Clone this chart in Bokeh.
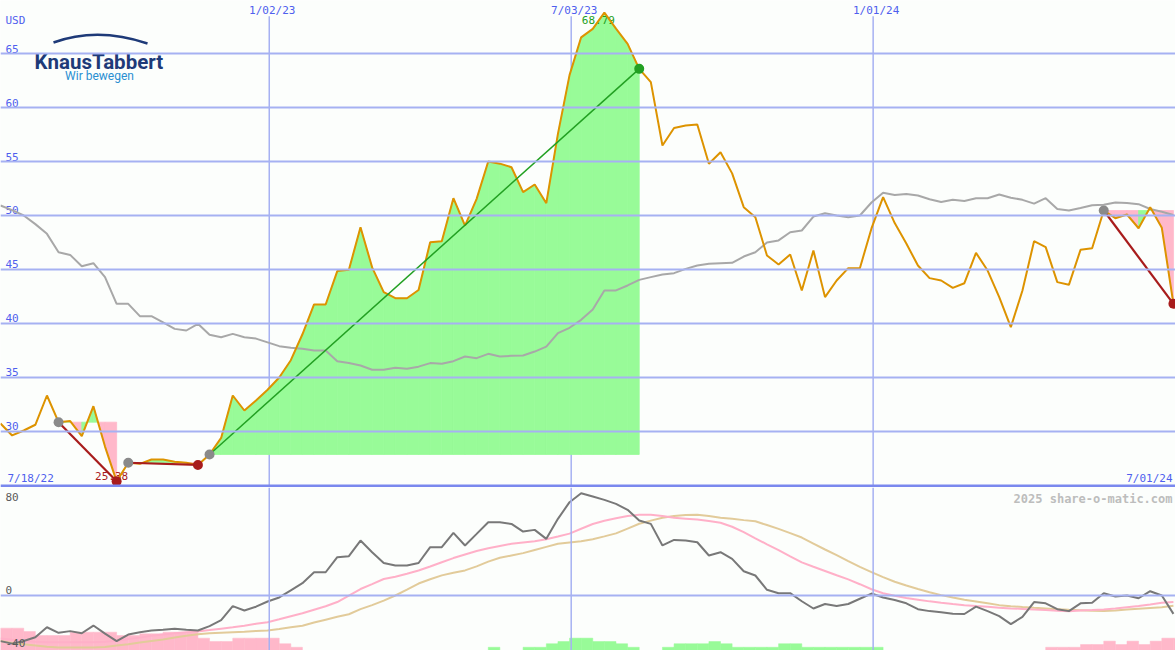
import numpy as np
from bokeh.plotting import figure
from bokeh.layouts import column
from bokeh.models import Range1d, Span
from bokeh.core.properties import value
from bokeh.embed import file_html
from bokeh.resources import INLINE

# ---------------- data ----------------
first_week = "2022-07-24"
n_weeks = 102

price = [30.74, 29.63, 30.09, 30.62, 33.33, 30.86, 30.96, 29.57, 32.34, 28.6,
         25.38, 27.10, 27.0, 27.4, 27.4, 27.2, 27.1, 26.9, 27.87, 29.4,
         33.33, 31.94, 32.87, 33.86, 35.0, 36.6, 39.0, 41.76, 41.76, 44.85,
         44.97, 48.92, 45.2, 42.9, 42.34, 42.34, 43.1, 47.53, 47.62, 51.6,
         49.07, 51.54, 55.0, 54.8, 54.47, 52.16, 52.87, 51.14, 57.56, 63.0,
         66.5, 67.28, 68.79, 67.3, 65.9, 63.58, 62.35, 56.48, 58.1, 58.33,
         58.43, 54.79, 55.86, 53.9, 50.77, 49.84, 46.3, 45.46, 46.39, 43.06,
         46.76, 42.44, 43.98, 45.12, 45.12, 48.8, 51.7, 49.3, 47.4, 45.37,
         44.2, 43.98, 43.3, 43.73, 46.54, 44.9, 42.44, 39.66, 43.06, 47.62,
         47.07, 43.83, 43.58, 46.82, 46.97, 50.46, 49.75, 50.09, 48.82, 50.77,
         48.86, 41.82]

moving_avg = [50.93, 50.5, 50.0, 49.2, 48.3, 46.6, 46.35, 45.3, 45.58, 44.3,
              41.82, 41.82, 40.68, 40.68, 40.1, 39.5, 39.35, 39.97, 38.95, 38.73,
              39.04, 38.73, 38.6, 38.25, 37.9, 37.75, 37.65, 37.5, 37.5, 36.5,
              36.33, 36.11, 35.71, 35.71, 35.9, 35.8, 36.0, 36.33, 36.27, 36.51,
              36.94, 36.79, 37.19, 36.94, 37.0, 37.04, 37.4, 37.85, 39.1, 39.6,
              40.34, 41.3, 43.06, 43.06, 43.52, 44.04, 44.29, 44.54, 44.66, 45.06,
              45.37, 45.53, 45.58, 45.62, 46.2, 46.6, 47.5, 47.69, 48.45, 48.61,
              49.9, 50.21, 50.0, 49.84, 50.0, 51.2, 52.1, 51.9, 52.0, 51.85,
              51.5, 51.25, 51.45, 51.35, 51.6, 51.6, 51.95, 51.65, 51.45, 51.1,
              51.6, 50.6, 50.46, 50.7, 50.95, 50.99, 51.2, 51.15, 51.05, 50.6,
              50.35, 50.05]

momentum = [-35.1, -37.0, -35.0, -32.1, -24.4, -28.7, -27.4, -29.0, -23.1, -29.3,
            -35.1, -30.0, -28.2, -26.9, -26.3, -25.6, -26.4, -26.9, -23.5, -19.0,
            -8.2, -11.5, -8.6, -4.6, -1.5, 4.0, 9.5, 17.9, 17.9, 29.5,
            30.3, 42.3, 33.3, 25.0, 23.1, 23.1, 25.0, 37.2, 37.2, 48.2,
            38.5, 47.4, 56.4, 56.4, 55.1, 49.2, 50.5, 43.6, 59.0, 71.8,
            78.7, 76.2, 73.6, 70.5, 65.9, 57.7, 55.1, 38.5, 42.8, 42.3,
            41.0, 30.8, 33.3, 28.2, 18.7, 15.4, 4.4, 1.8, 1.8, -4.4,
            -10.0, -6.5, -8.0, -6.5, -2.5, 1.5, -1.5, -3.5, -6.0, -10.5,
            -12.0, -12.8, -14.0, -14.2, -8.5, -12.0, -15.8, -22.0, -16.5, -5.0,
            -6.0, -10.5, -12.0, -6.0, -5.6, 1.8, -0.8, 0.0, -2.1, 3.3,
            0.0, -14.1]

signal_fast = [-33.0, -34.0, -35.0, -35.5, -36.0, -36.0, -36.0, -36.0, -36.0, -35.6,
               -34.8, -33.5, -32.4, -31.0, -30.0, -29.0, -28.3, -27.6, -26.6, -25.5,
               -24.5, -23.2, -21.8, -20.5, -18.3, -16.0, -13.7, -11.0, -8.3, -5.0,
               0.0, 5.0, 8.8, 12.7, 14.5, 16.7, 19.2, 22.3, 25.6, 28.8,
               31.5, 34.2, 36.4, 38.1, 39.8, 40.8, 41.8, 43.3, 45.4, 47.6,
               51.4, 55.0, 57.5, 59.5, 61.2, 62.1, 62.1, 61.2, 59.8, 59.1,
               58.4, 57.4, 56.0, 52.9, 48.7, 44.0, 39.4, 34.9, 30.1, 25.5,
               22.1, 18.9, 15.6, 12.4, 8.7, 4.8, 1.8, -0.2, -1.9, -3.2,
               -4.5, -5.6, -6.6, -7.4, -8.1, -8.7, -9.4, -9.9, -10.3, -10.8,
               -11.2, -11.7, -12.1, -11.6, -11.2, -10.7, -9.9, -9.0, -8.1, -6.9,
               -5.6, -5.0]

signal_slow = [-35.0, -36.5, -37.5, -38.5, -39.5, -40.0, -40.0, -40.0, -40.0, -39.6,
               -38.5, -37.5, -36.2, -35.0, -33.8, -32.3, -31.0, -29.8, -29.1, -28.6,
               -28.2, -27.8, -27.3, -26.9, -25.7, -24.4, -23.3, -20.8, -18.6, -16.4,
               -14.4, -10.5, -7.4, -3.9, 0.0, 4.5, 9.2, 12.5, 15.5, 17.5,
               19.3, 22.4, 26.1, 29.0, 30.8, 32.6, 35.0, 37.4, 39.8, 40.8,
               41.8, 43.3, 45.5, 47.8, 51.5, 55.2, 57.6, 59.8, 61.2, 62.0,
               62.1, 61.2, 59.9, 59.0, 58.0, 57.1, 54.2, 51.3, 48.0, 44.6,
               40.0, 35.4, 31.1, 26.5, 22.0, 18.0, 14.2, 10.6, 7.7, 5.0,
               2.5, 0.3, -1.6, -3.2, -4.6, -6.0, -7.4, -8.2, -8.9, -9.5,
               -10.0, -10.5, -11.0, -11.4, -11.8, -12.0, -11.5, -10.8, -10.2, -9.6,
               -9.0, -7.9]

histogram = [-17.2, -17.2, -14.6, -11.5, -11.5, -11.5, -14.1, -14.1, -14.1, -14.1,
             -11.5, -11.5, -12.8, -12.8, -14.1, -14.1, -14.1, -9.5, -6.9, -6.9,
             -9.5, -9.5, -9.5, -9.5, -5.2, -2.5, 0, 0, 0, 0,
             0, 0, 0, 0, 0, 0, 0, 0, 0, 0,
             0, 0, 2.5, 0, 0, 2.5, 2.5, 5.2, 6.9, 9.5,
             9.5, 6.9, 6.9, 5.2, 2.5, 0, 0, 2.5, 5.2, 5.2,
             5.2, 6.9, 5.2, 2.5, 2.5, 2.5, 2.5, 5.2, 5.2, 2.5,
             2.5, 2.5, 2.5, 2.5, 2.5, 2.5, 0, 0, 0, 0,
             0, 0, 0, 0, 0, 0, 0, 0, 0, 0,
             -2.5, -2.5, -2.5, -4.6, -4.6, -7.2, -4.6, -7.2, -4.6, -7.2,
             -9.5, -9.5]

# trend segments: (start index, end index)
trends = [(5, 10), (11, 17), (18, 55), (95, 101)]

date_lines = ["2023-01-02", "2023-07-03", "2024-01-01"]
date_labels = ["1/02/23", "7/03/23", "1/01/24"]
first_label = "7/18/22"
last_label = "7/01/24"
price_ticks = [30, 35, 40, 45, 50, 55, 60, 65]
ind_ticks = [80, 0, -40]

# ---------------- helpers ----------------
EPOCH = np.datetime64("1970-01-01T00:00")


def ms(d):
    return float((np.datetime64(d, "m") - EPOCH) / np.timedelta64(1, "ms"))


dates = np.datetime64(first_week) + np.arange(n_weeks) * np.timedelta64(7, "D")
X = [ms(d) for d in dates]
WEEK = 7 * 86400000.0
x_start = X[0]
x_end = ms("2024-07-01T06:00")

W, H_TOP, H_BOT = 1175, 487, 163
BG = "#FCFEFC"
GRID = "#A6B1F2"
BLUE_TXT = "#4F5FEE"
ORANGE = "#DD9300"
GREEN_FILL = "#98FB98"
PINK_FILL = "#FFB8CA"
DARK_RED = "#A81C1C"
GREEN = "#22A022"
MONO = value("DejaVu Sans Mono")
FS = "11px"

xr = Range1d(x_start, x_end)

# ---------------- top (price) ----------------
p = figure(width=W, height=H_TOP, x_range=xr, y_range=Range1d(24.81, 69.91),
           x_axis_type="datetime", x_axis_location=None, y_axis_location=None,
           output_backend="svg", toolbar_location=None, min_border=0,
           background_fill_color=BG, border_fill_color=BG, outline_line_color=None)
p.grid.visible = False

for t in price_ticks:
    p.add_layout(Span(location=t, dimension="width", line_color=GRID, line_width=2))
p.segment(x0=[ms(d) for d in date_lines], y0=24.81, x1=[ms(d) for d in date_lines], y1=68.45,
          line_color=GRID, line_width=1.5)

# trend fills
fx, fy, fc = [], [], []
for s, e in trends:
    b = price[s]
    for i in range(s, e):
        x0, x1, p0, p1 = X[i], X[i + 1], price[i], price[i + 1]
        if (p0 - b) * (p1 - b) < 0:
            t = (b - p0) / (p1 - p0)
            xc = x0 + t * (x1 - x0)
            parts = [((x0, p0), (xc, b)), ((xc, b), (x1, p1))]
        else:
            parts = [((x0, p0), (x1, p1))]
        for (xa, pa), (xb, pb) in parts:
            above = (pa + pb) / 2 > b
            col = GREEN_FILL if (above or p1 >= b) else PINK_FILL
            fx.append([xa, xa, xb, xb])
            fy.append([b, pa, pb, b])
            fc.append(col)
p.patches(xs=fx, ys=fy, fill_color=fc, line_color=fc, line_width=0.8)

p.add_layout(Span(location=24.95, dimension="width", line_color="#7A88EE", line_width=3))

# labels (axis-like)
p.text(x=[x_start] * len(price_ticks), y=price_ticks, text=[str(t) for t in price_ticks],
       x_offset=5, y_offset=-1, text_baseline="bottom", text_align="left",
       text_font=MONO, text_font_size=FS, text_color=BLUE_TXT)
p.text(x=[x_start], y=[65], text=["USD"], x_offset=5, y_offset=-27, text_baseline="bottom",
       text_font=MONO, text_font_size=FS, text_color=BLUE_TXT)
p.text(x=[ms(d) for d in date_lines], y=69.91, text=date_labels, x_offset=3, y_offset=3,
       text_baseline="top", text_align="center",
       text_font=MONO, text_font_size=FS, text_color=BLUE_TXT)
p.text(x=[x_start], y=[24.81], text=[first_label], x_offset=7, y_offset=-3,
       text_baseline="bottom", text_align="left",
       text_font=MONO, text_font_size=FS, text_color=BLUE_TXT)
p.text(x=[x_end], y=[24.81], text=[last_label], x_offset=-3, y_offset=-3,
       text_baseline="bottom", text_align="right",
       text_font=MONO, text_font_size=FS, text_color=BLUE_TXT)

# min / max labels
imin = int(np.argmin(price))
imax = int(np.argmax(price))
p.text(x=[X[imin]], y=[price[imin]], text=[f"{price[imin]:.2f}"], x_offset=-5, y_offset=-1,
       text_baseline="bottom", text_align="center",
       text_font=MONO, text_font_size=FS, text_color=DARK_RED)
p.text(x=[X[imax]], y=[price[imax]], text=[f"{price[imax]:.2f}"], x_offset=-6, y_offset=3,
       text_baseline="top", text_align="center",
       text_font=MONO, text_font_size=FS, text_color=GREEN)

# lines
p.line(X, moving_avg, line_color="#A8A8A8", line_width=2)
p.line(X, price, line_color=ORANGE, line_width=2)

for s, e in trends:
    up = price[e] > price[s]
    p.line([X[s], X[e]], [price[s], price[e]], line_color=GREEN if up else DARK_RED,
           line_width=1.5 if (e - s) > 6 or up else 2.2)
sx = [X[s] for s, e in trends]
sy = [price[s] for s, e in trends]
ex = [X[e] for s, e in trends]
ey = [price[e] for s, e in trends]
ec = [GREEN if price[e] > price[s] else DARK_RED for s, e in trends]
p.scatter(sx, sy, size=10, fill_color="#8A8A8A", line_color=None)
p.scatter(ex, ey, size=10, fill_color=ec, line_color=None)

# logo (decoration, pixel coordinates)
p.extra_x_ranges = {"px": Range1d(0, 1175)}
p.extra_y_ranges = {"px": Range1d(487, 0)}
p.quadratic(x0=[53], y0=[42], x1=[147], y1=[43], cx=[97], cy=[26], line_color="#1E3A78",
            line_width=2.4, x_range_name="px", y_range_name="px")
p.text(x=[34], y=[61.5], text=["KnausTabbert"], text_baseline="alphabetic", text_align="left",
       text_font=value("Roboto"), text_font_style="bold", text_font_size="20.5px",
       text_color="#1E3A78", x_range_name="px", y_range_name="px")
p.text(x=[99], y=[75], text=["Wir bewegen"], text_baseline="alphabetic", text_align="center",
       text_font=value("Roboto"), text_font_size="12px",
       text_color="#2A8FD2", x_range_name="px", y_range_name="px")

# ---------------- bottom (indicator) ----------------
q = figure(width=W, height=H_BOT, x_range=xr, y_range=Range1d(-42.3, 83.1),
           x_axis_type="datetime", x_axis_location=None, y_axis_location=None,
           output_backend="svg", toolbar_location=None, min_border=0,
           background_fill_color=BG, border_fill_color=BG, outline_line_color=None)
q.grid.visible = False
q.add_layout(Span(location=0, dimension="width", line_color=GRID, line_width=2))
for d in date_lines:
    q.add_layout(Span(location=ms(d), dimension="height", line_color=GRID, line_width=1.5))

base = -42.3
hl = [X[i] for i in range(n_weeks) if histogram[i] != 0]
hr = [X[i] + WEEK for i in range(n_weeks) if histogram[i] != 0]
ht = [base + abs(histogram[i]) for i in range(n_weeks) if histogram[i] != 0]
hc = [GREEN_FILL if histogram[i] > 0 else PINK_FILL for i in range(n_weeks) if histogram[i] != 0]
q.quad(left=hl, right=hr, bottom=base, top=ht, fill_color=hc, line_color=hc, line_width=0.5)

q.line(X, signal_slow, line_color="#E2CB9A", line_width=2)
q.line(X, signal_fast, line_color="#FFB0C8", line_width=2)
q.line(X, momentum, line_color="#787878", line_width=2)

q.text(x=[x_start] * 3, y=ind_ticks, text=[str(t) for t in ind_ticks], x_offset=5,
       y_offset=[1, -2, -1], text_baseline=["top", "bottom", "bottom"],
       text_font=MONO, text_font_size=FS, text_color="#5A5A5A")
q.text(x=[x_end], y=[83.1], text=["2025 share-o-matic.com"], x_offset=-3, y_offset=4,
       text_baseline="top", text_align="right", text_font=MONO, text_font_style="bold",
       text_font_size="12px", text_color="#BDBDBD")

layout = column(p, q, spacing=0)
open("out.html", "w").write(file_html(layout, INLINE))
